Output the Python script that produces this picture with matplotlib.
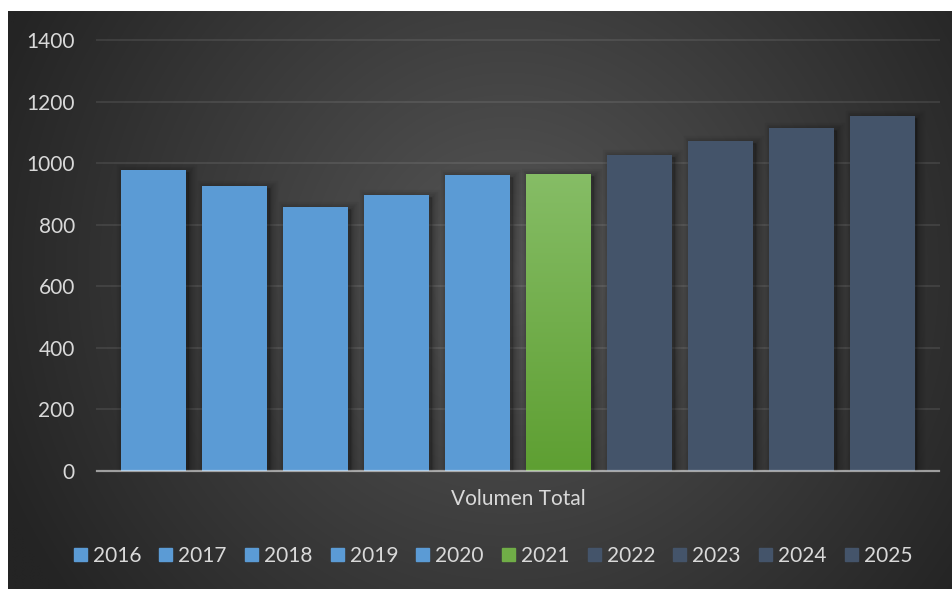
import numpy as np
import matplotlib
matplotlib.use("Agg")
import matplotlib.pyplot as plt
import matplotlib.patheffects as pe

years = ["2016", "2017", "2018", "2019", "2020", "2021", "2022", "2023", "2024", "2025"]
values = [978, 926, 857, 896, 961, 965, 1026, 1072, 1114, 1153]
category = "Volumen Total"
yticks = [0, 200, 400, 600, 800, 1000, 1200, 1400]

BLUE = "#5B9BD5"
GREEN = "#70AD47"
SLATE = "#44546A"
colors = [BLUE] * 5 + [GREEN] + [SLATE] * 4
TXT = "#D9D9D9"

plt.rcParams["font.family"] = ["Lato", "DejaVu Sans"]

W, H = 952, 589
fig = plt.figure(figsize=(W / 100, H / 100), dpi=100, facecolor="white")

# dark radial background of the chart area
bg = fig.add_axes([8 / W, 0, (W - 8) / W, (H - 11) / H])
bg.axis("off")
gx, gy = np.meshgrid(np.linspace(0, 1, 400), np.linspace(0, 1, 250))
aspect = (H - 11) / (W - 8)
r = np.sqrt((gx - 0.53) ** 2 + ((gy - 0.45) * aspect) ** 2) / np.sqrt(0.5 ** 2 + (0.5 * aspect) ** 2)
r = np.clip(r, 0, 1)
c0, c1 = 86 / 255, 36 / 255
val = c0 + (c1 - c0) * r
img = np.dstack([val, val, val])
bg.imshow(img, extent=[0, 1, 0, 1], aspect="auto", origin="upper", interpolation="bilinear")
bg.set_xlim(0, 1)
bg.set_ylim(0, 1)

ax = fig.add_axes([97 / W, 1 - 471 / H, 842 / W, 431 / H])
ax.set_facecolor("none")
for s in ax.spines.values():
    s.set_visible(False)

x = np.arange(len(values))
# soft drop shadow, stacked strokes of growing width
shadow = [
    pe.SimplePatchShadow(offset=(2, -1.5), shadow_rgbFace="black", alpha=0.045,
                         linewidth=lw, foreground="black")
    for lw in (11, 8, 6, 4, 2)
] + [pe.Normal()]

bars = ax.bar(x, values, width=0.8, color=colors, linewidth=0, zorder=3)
for b, yr in zip(bars, years):
    b.set_path_effects(shadow)
    b.set_label(yr)

# gradient fill for the 2021 bar
gb = bars[5]
grad = np.linspace(0, 1, 256).reshape(-1, 1)
top = np.array([0x86, 0xBD, 0x66]) / 255
bot = np.array([0x5E, 0x9F, 0x32]) / 255
gimg = (top + (bot - top) * grad[..., None]).reshape(256, 1, 3)
im = ax.imshow(gimg, extent=[gb.get_x(), gb.get_x() + gb.get_width(), 0, gb.get_height()],
               aspect="auto", origin="upper", zorder=4)
im.set_clip_path(gb)

ax.set_xlim(-0.7, len(values) - 0.3)
ax.set_ylim(0, 1400)
ax.set_yticks(yticks)
ax.set_xticks([(len(values) - 1) / 2])
ax.set_xticklabels([category])
ax.tick_params(axis="both", length=0, colors=TXT, labelsize=15)
ax.tick_params(axis="y", pad=16)
ax.tick_params(axis="x", pad=13)
ax.yaxis.grid(True, color="white", alpha=0.09, linewidth=1.4, zorder=1)
ax.set_axisbelow(True)
for gl in ax.yaxis.get_gridlines():
    gl.set_clip_on(False)
ax.axhline(0, color="white", alpha=0.5, linewidth=1.6, zorder=6, clip_on=False)

handles = [plt.Rectangle((0, 0), 1, 1, color=c) for c in colors]
fig.legend(handles, years, loc="center", bbox_to_anchor=(493 / W, 1 - 556 / H),
           ncol=10, frameon=False, fontsize=15, handlelength=0.625, handleheight=0.625,
           handletextpad=0.29, columnspacing=0.87, borderpad=0, labelcolor=TXT)

fig.savefig("out.png", dpi=100, facecolor="white")
